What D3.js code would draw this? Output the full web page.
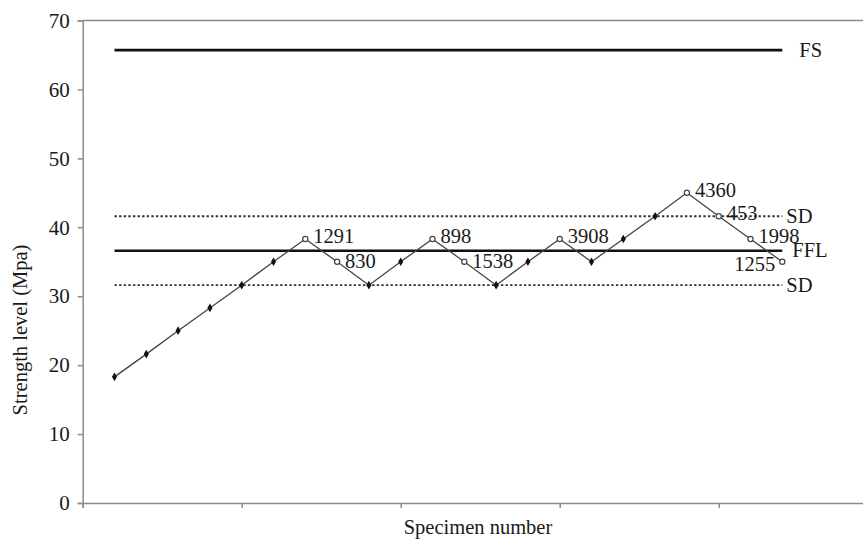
<!DOCTYPE html>
<html>
<head>
<meta charset="utf-8">
<script src="https://cdn.jsdelivr.net/npm/d3@7"></script>
<style>
  html, body { margin: 0; padding: 0; background: #fff; }
  svg { display: block; }
  text { font-family: "Liberation Serif", "Times New Roman", serif; fill: #1a1a1a; }
</style>
</head>
<body>
<svg id="chart" width="863" height="544"></svg>
<script>
// ---- data ----
const specimens = [1,2,3,4,5,6,7,8,9,10,11,12,13,14,15,16,17,18,19,20,21,22];
const strength  = [18.3,21.6,25.0,28.3,31.6,35.0,38.3,35.0,31.6,35.0,38.3,35.0,31.6,35.0,38.3,35.0,38.3,41.6,45.0,41.6,38.3,35.0];
// failure cycles (null = run-out)
const cycles    = [null,null,null,null,null,null,1291,830,null,null,898,1538,null,null,3908,null,null,null,4360,453,1998,1255];
const refNames  = ["FS","FFL","SD","SD"];
const refValues = [65.7,36.6,41.6,31.6];
const refDashed = [false,false,true,true];
const yTicks    = [0,10,20,30,40,50,60,70];
const xTicks    = [0,5,10,15,20,25];
const yTitle    = "Strength level (Mpa)";
const xTitle    = "Specimen number";

// ---- layout ----
const svg = d3.select("#chart");
const x = d3.scaleLinear().domain([0,25]).range([82.7, 877.7]);
const y = d3.scaleLinear().domain([0,70]).range([503, 20.5]);
const axisColor = "#8a8a8a";

// plot-area border (top / right)
svg.append("path")
  .attr("d", `M${x(0)},${y(70)}H${x(25)}V${y(0)}`)
  .attr("fill","none").attr("stroke",axisColor).attr("stroke-width",1.5);

// y axis
const yAxis = svg.append("g").attr("transform",`translate(${x(0)},0)`)
  .call(d3.axisLeft(y).tickValues(yTicks).tickSize(5).tickPadding(8).tickFormat(d3.format("d")));
yAxis.select(".domain").attr("stroke",axisColor).attr("stroke-width",1.5);
yAxis.selectAll(".tick line").attr("stroke",axisColor).attr("stroke-width",1.5);
yAxis.selectAll(".tick text").attr("font-size",21).attr("font-family","Liberation Serif").attr("fill","#1a1a1a");

// x axis
const xAxis = svg.append("g").attr("transform",`translate(0,${y(0)})`)
  .call(d3.axisBottom(x).tickValues(xTicks).tickSize(5).tickFormat(""));
xAxis.select(".domain").attr("stroke",axisColor).attr("stroke-width",1.5);
xAxis.selectAll(".tick line").attr("stroke",axisColor).attr("stroke-width",1.5);

// reference lines
refNames.forEach((name,i) => {
  const x0 = specimens[0], x1 = specimens[specimens.length-1];
  svg.append("line")
    .attr("x1",x(x0)).attr("x2",x(x1))
    .attr("y1",y(refValues[i])).attr("y2",y(refValues[i]))
    .attr("stroke", refDashed[i] ? "#333" : "#111")
    .attr("stroke-width", refDashed[i] ? 1.8 : 2.6)
    .attr("stroke-dasharray", refDashed[i] ? "2.4,2.2" : null);
  const off = name === "FS" ? 17 : (name === "FFL" ? 10 : 4);
  svg.append("text")
    .attr("x", x(x1) + off).attr("y", y(refValues[i]) + 6.5)
    .attr("font-size",20.5).text(name);
});

// data line
const pts = specimens.map((s,i) => ({s, v: strength[i], c: cycles[i]}));
svg.append("path").datum(pts)
  .attr("d", d3.line().x(d => x(d.s)).y(d => y(d.v)))
  .attr("fill","none").attr("stroke","#444").attr("stroke-width",1.3);

// run-out markers (filled diamonds)
svg.selectAll("path.runout").data(pts.filter(d => d.c === null)).enter()
  .append("path").attr("class","runout")
  .attr("d", d3.symbol().type(d3.symbolDiamond).size(22))
  .attr("transform", d => `translate(${x(d.s)},${y(d.v)})`)
  .attr("fill","#111");

// failure markers (open circles)
const fails = pts.filter(d => d.c !== null);
svg.selectAll("circle.fail").data(fails).enter()
  .append("circle").attr("class","fail")
  .attr("cx", d => x(d.s)).attr("cy", d => y(d.v)).attr("r", 2.6)
  .attr("fill","#fff").attr("stroke","#444").attr("stroke-width",1.2);

// cycle labels
svg.selectAll("text.cyc").data(fails).enter()
  .append("text").attr("class","cyc")
  .attr("font-size",20.5)
  .attr("text-anchor", d => d.s === 22 ? "end" : "start")
  .attr("x", d => d.s === 22 ? x(d.s) - 7 : x(d.s) + 8)
  .attr("y", d => d.s === 22 ? y(d.v) + 9.5 : (d.v < 36 ? y(d.v) + 6.5 : y(d.v) + 4))
  .text(d => d.c);

// axis titles
svg.append("text")
  .attr("transform", `translate(27,330) rotate(-90)`)
  .attr("text-anchor","middle").attr("font-size",20.5).text(yTitle);
svg.append("text")
  .attr("x", 478).attr("y", 534)
  .attr("text-anchor","middle").attr("font-size",20.5).text(xTitle);
</script>
</body>
</html>
